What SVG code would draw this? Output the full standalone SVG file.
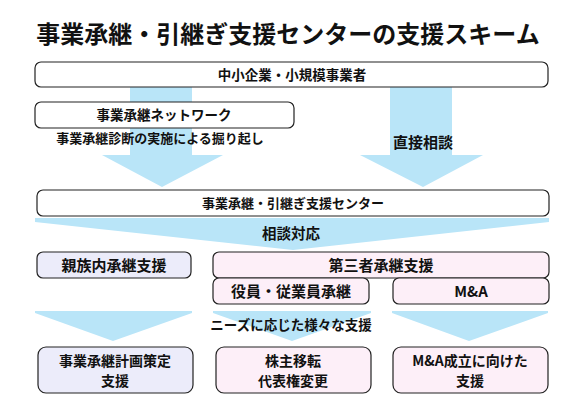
<svg xmlns="http://www.w3.org/2000/svg" width="574" height="419" viewBox="0 0 574 419">
<style>
text{font-family:"Noto Sans CJK JP","Noto Sans",sans-serif;font-weight:bold;fill:#111;text-anchor:middle;font-size:13px}
.title{font-size:24px}
.m{font-size:13.5px}
.l{font-size:15px}
.b{font-size:14px}
.box{fill:#fff;stroke:#222;stroke-width:1.2}
.lav{fill:#ECECFA;stroke:#222;stroke-width:1.2}
.pink{fill:#FDEFF8;stroke:#222;stroke-width:1.2}
.arr{fill:#B9E5F8;stroke:none}
</style>
<rect width="574" height="419" fill="#fff"/>
<text class="title" x="288" y="43">事業承継・引継ぎ支援センターの支援スキーム</text>
<g id="connectors">
<polygon class="arr" points="130,87 192,87 192,155 223,155 162,187 102,155 130,155"/>
<polygon class="arr" points="390,87 452,87 452,155 483,155 423,187 360,155 390,155"/>
<polygon class="arr" points="35,218 549,218 549,222 293,250 35,222"/>
<polygon class="arr" points="35,311 192,311 192,313 113,341 35,313"/>
<polygon class="arr" points="213,311 371,311 371,313 292,341 213,313"/>
<polygon class="arr" points="392,311 548,311 548,313 469,341 392,313"/>
</g>
<g id="n-smes"><rect class="box" x="35" y="62" width="513" height="25" rx="6"/><text class="m" x="292" y="80">中小企業・小規模事業者</text></g>
<g id="n-network"><rect class="box" x="35" y="102" width="259" height="26" rx="6"/><text class="m" x="164" y="120">事業承継ネットワーク</text></g>
<g id="l-diag"><text x="160" y="143">事業承継診断の実施による掘り起し</text></g>
<g id="l-direct"><text class="l" x="423" y="148">直接相談</text></g>
<g id="n-center"><rect class="box" x="37" y="190" width="512" height="26" rx="6"/><text x="293" y="208">事業承継・引継ぎ支援センター</text></g>
<g id="l-consult"><text style="font-size:14.5px" x="291" y="239">相談対応</text></g>
<g id="n-family"><rect class="lav" x="37" y="252" width="154" height="26" rx="6"/><text class="l" x="114" y="271">親族内承継支援</text></g>
<g id="n-third"><rect class="pink" x="213" y="252" width="336" height="26" rx="6"/><text class="l" x="381" y="271">第三者承継支援</text></g>
<g id="n-employee"><rect class="pink" x="213" y="278" width="156" height="26" rx="6"/><text class="l" x="291" y="297">役員・従業員承継</text></g>
<g id="n-ma"><rect class="pink" x="393" y="278" width="156" height="26" rx="6"/><text class="l" x="471" y="297">M&amp;A</text></g>
<g id="l-needs"><text class="m" x="291" y="330">ニーズに応じた様々な支援</text></g>
<g id="n-plan"><rect class="lav" x="38" y="347" width="155" height="46" rx="8"/><text class="b" x="115" y="366">事業承継計画策定<tspan x="115" dy="20">支援</tspan></text></g>
<g id="n-shares"><rect class="pink" x="216" y="347" width="155" height="46" rx="8"/><text class="b" x="293" y="366">株主移転<tspan x="293" dy="20">代表権変更</tspan></text></g>
<g id="n-masupport"><rect class="pink" x="393" y="347" width="155" height="46" rx="8"/><text class="b" x="470" y="366">M&amp;A成立に向けた<tspan x="470" dy="20">支援</tspan></text></g>
</svg>
